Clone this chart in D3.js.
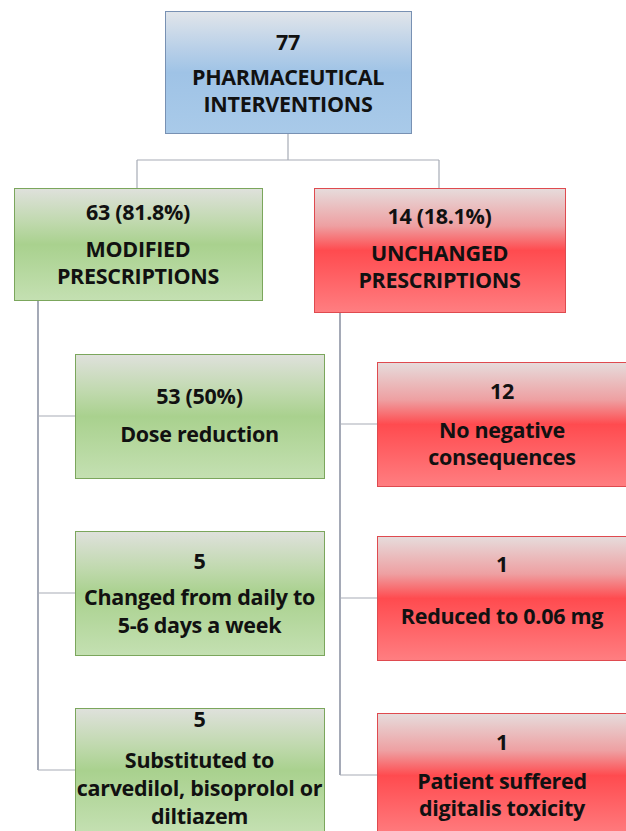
<!DOCTYPE html>
<html>
<head>
<meta charset="utf-8">
<script src="https://cdn.jsdelivr.net/npm/d3@7"></script>
<style>
  body { margin: 0; background: #fff; }
  svg { display: block; }
  text { font-family: "Open Sans", sans-serif; font-weight: bold; fill: #111; }
</style>
</head>
<body>
<svg width="626" height="831"></svg>
<script>
// root node
const rootLines = ['77', 'PHARMACEUTICAL', 'INTERVENTIONS'];

// second level
const branchLines = [
  ['63 (81.8%)', 'MODIFIED', 'PRESCRIPTIONS'],
  ['14 (18.1%)', 'UNCHANGED', 'PRESCRIPTIONS']
];
const branchKinds = ['green', 'red'];

// leaves of each branch
const modifiedLines = [
  ['53 (50%)', 'Dose reduction'],
  ['5', 'Changed from daily to', '5-6 days a week'],
  ['5', 'Substituted to', 'carvedilol, bisoprolol or', 'diltiazem']
];
const unchangedLines = [
  ['12', 'No negative', 'consequences'],
  ['1', 'Reduced to 0.06 mg'],
  ['1', 'Patient suffered', 'digitalis toxicity']
];

const svg = d3.select('svg');
const defs = svg.append('defs');

const palettes = {
  blue:  { stroke: '#7891b3', stops: ['#e1e5ea', '#b9d0e8', '#9fc3e6', '#a9cae9'] },
  green: { stroke: '#7ba65c', stops: ['#dfe1dc', '#c0d9ae', '#a9d18e', '#c4e0b2'] },
  red:   { stroke: '#df4a4f', stops: ['#e6dcdc', '#eea0a2', '#ff4b4f', '#ff7e81'] }
};
Object.entries(palettes).forEach(([k, p]) => {
  const g = defs.append('linearGradient').attr('id', 'g-' + k)
    .attr('x1', 0).attr('y1', 0).attr('x2', 0).attr('y2', 1);
  g.selectAll('stop').data(p.stops).enter().append('stop')
    .attr('offset', (d, i) => [0, 0.3, 0.5, 1][i])
    .attr('stop-color', d => d);
});

// layout scales
const leafY = d3.scaleLinear().domain([0, 1]).range([0, 177]);
const nodes = [];
nodes.push({ kind: 'blue', lines: rootLines, x: 165, y: 11, w: 246, h: 122, first: 31, gap: 35 });
const branchX = d3.scaleLinear().domain([0, 1]).range([14, 314]);
branchLines.forEach((lines, i) => {
  nodes.push({ kind: branchKinds[i], lines, x: branchX(i), y: 188, w: i ? 251 : 248,
    h: i ? 124 : 112, first: i ? 28 : 24, gap: 37, gap2: 27 });
});
modifiedLines.forEach((lines, i) => {
  const n = lines.length;
  nodes.push({ kind: 'green', lines, x: 75, y: 354 + leafY(i), w: 249, h: 124,
    first: n === 4 ? 11 : n === 2 ? 42 : 30, gap: n === 4 ? 41 : n === 2 ? 38 : 36, gap2: 28, trunk: 38 });
});
unchangedLines.forEach((lines, i) => {
  const n = lines.length;
  nodes.push({ kind: 'red', lines, x: 377, y: 362 + leafY(i) - (i ? 3 : 0), w: 260, h: 124,
    first: n === 2 ? 28 : 29, gap: n === 2 ? 52 : 39, gap2: 27, trunk: 340 });
});

const links = svg.append('g');
const line = (x1, y1, x2, y2, c) => links.append('line')
  .attr('x1', x1).attr('y1', y1).attr('x2', x2).attr('y2', y2)
  .attr('stroke', c).attr('stroke-width', 1.2);

// root -> branches
line(288, 133, 288, 160, '#a7acb6');
line(137, 160, 439, 160, '#a7acb6');
line(137, 160, 137, 188, '#a7acb6');
line(439, 160, 439, 188, '#a7acb6');

// trunks to leaves
const leaves = nodes.slice(3);
[[38, 300, leaves.slice(0, 3)], [340, 312, leaves.slice(3)]].forEach(([tx, ty, kids]) => {
  const ys = kids.map(k => k.y + 62);
  line(tx, ty, tx, d3.max(ys), '#687186');
  ys.forEach((y, i) => line(tx, y, kids[i].x, y, '#a7acb6'));
});

const box = svg.selectAll('g.node').data(nodes).enter().append('g')
  .attr('class', 'node')
  .attr('transform', d => `translate(${d.x},${d.y})`);
box.append('rect')
  .attr('x', 0.5).attr('y', 0.5)
  .attr('width', d => d.w).attr('height', d => d.h)
  .attr('fill', d => `url(#g-${d.kind})`)
  .attr('stroke', d => palettes[d.kind].stroke)
  .attr('stroke-width', 1);
box.each(function (d) {
  const cx = d.kind === 'red' && d.trunk ? 125 : d.w / 2;
  d3.select(this).selectAll('text').data(d.lines).enter().append('text')
    .attr('x', cx)
    .attr('y', (t, i) => d.first + (i === 0 ? 0 : d.gap + (i - 1) * (d.gap2 || 27)))
    .attr('dy', '0.35em')
    .attr('text-anchor', 'middle')
    .attr('font-size', 21.5)
    .attr('letter-spacing', '-0.3')
    .text(t => t);
});
</script>
</body>
</html>
